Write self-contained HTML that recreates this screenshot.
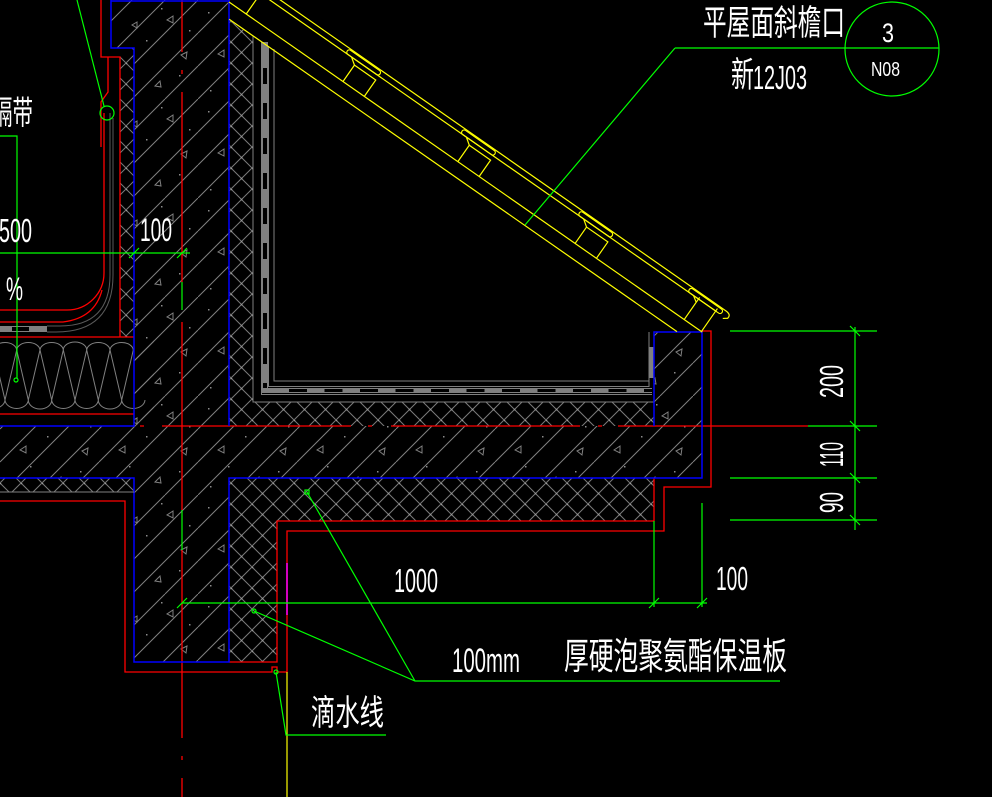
<!DOCTYPE html>
<html><head><meta charset="utf-8"><style>
html,body{margin:0;padding:0;background:#000;}
svg{display:block}
text{font-family:"Liberation Sans","Noto Sans CJK SC",sans-serif;fill:#fff;}
</style></head><body>
<svg width="992" height="797" viewBox="0 0 992 797" xmlns="http://www.w3.org/2000/svg">
<defs>
<pattern id="conc" patternUnits="userSpaceOnUse" width="99" height="99">
 <g stroke="#808080" stroke-width="1" fill="none">
  <path d="M0,33L33,0M0,66L66,0M0,99L99,0M33,99L99,33M66,99L99,66"/>
  <path d="M20,54l6,-4v7zM74,16l-6,4l6,3zM56,86l5,-5l1,6zM88,52l-6,3l5,4zM38,22l-5,3l5,3z"/>
 </g>
 <g fill="#8c8c8c">
  <rect x="10" y="12" width="1.5" height="1.5"/><rect x="47" y="40" width="1.5" height="1.5"/>
  <rect x="80" y="75" width="1.5" height="1.5"/><rect x="30" y="70" width="1.5" height="1.5"/>
  <rect x="62" y="8" width="1.5" height="1.5"/><rect x="12" y="90" width="1.5" height="1.5"/>
  <rect x="90" y="30" width="1.5" height="1.5"/>
 </g>
</pattern>
<pattern id="xh" patternUnits="userSpaceOnUse" width="21" height="21">
 <path d="M0,0L21,21M0,21L21,0" stroke="#7a7a7a" stroke-width="1" fill="none"/>
 <rect x="9.8" y="9.8" width="1.6" height="1.6" fill="#9a9a9a"/>
 <rect x="0" y="0" width="1.2" height="1.2" fill="#9a9a9a"/>
</pattern>
</defs>
<rect width="992" height="797" fill="#000"/>

<!-- concrete -->
<path d="M111,0 L229,0 L229,426 L654,426 L654,332 L702,332 L702,478 L229,478 L229,662 L134,662 L134,478 L0,478 L0,426 L134,426 L134,48 L111,48 Z" fill="url(#conc)"/>
<!-- crosshatch insulation -->
<path d="M120,48 L134,48 L134,337 L120,337 Z" fill="url(#xh)"/>
<path d="M229,20 L253,36 L253,402 L654,402 L654,426 L229,426 Z" fill="url(#xh)"/>
<path d="M0,478 L134,478 L134,492 L0,492 Z" fill="url(#xh)"/>
<path d="M229,478 L654,478 L654,521 L277,521 L277,662 L229,662 Z" fill="url(#xh)"/>

<!-- insulation loops left -->
<g stroke="#808080" fill="none" stroke-width="1">
 <path d="M-6.6,350 L5,400 L16.7,350 L28.3,400 L40,350 L51.7,400 L63.3,350 L75,400 L86.7,350 L98.3,400 L110,350 L121.7,400 L133.3,350"/>
 <path d="M-6.6,350 A11.67,8 0 0 1 16.7,350 A11.67,8 0 0 1 40,350 A11.67,8 0 0 1 63.3,350 A11.67,8 0 0 1 86.7,350 A11.67,8 0 0 1 110,350 A11.67,8 0 0 1 133.3,350"/>
 <path d="M-18.3,400 A11.67,9 0 0 0 5,400 A11.67,9 0 0 0 28.3,400 A11.67,9 0 0 0 51.7,400 A11.67,9 0 0 0 75,400 A11.67,9 0 0 0 98.3,400 A11.67,9 0 0 0 121.7,400 A11.67,9 0 0 0 145,400"/>
</g>
<rect x="134" y="340" width="20" height="80" fill="url(#conc)"/>

<!-- gray membranes upper-left -->
<g stroke="#5a5a5a" fill="none" stroke-width="1">
 <path d="M110,113 V275 Q110,326 60,326 H47"/>
 <path d="M113,118 V275 Q113,332 56,332 H47"/>
</g>
<rect x="0" y="326" width="47" height="6" fill="#808080"/>
<rect x="12" y="327" width="17" height="4" fill="#000"/>

<!-- interior box gray lines -->
<g stroke="#808080" fill="none" stroke-width="1" shape-rendering="crispEdges">
 <path d="M253,36 V402 H654"/>
 <path d="M274,49 V381 H649"/>
 <path d="M261.5,42 V394.5 H652"/>
 <path d="M268.5,46 V386.5 H649"/>
 <path d="M649,332 V387"/>
</g>
<line x1="265" y1="42" x2="265" y2="391" stroke="#808080" stroke-width="6"/>
<line x1="265" y1="68" x2="265" y2="391" stroke="#000" stroke-width="4" stroke-dasharray="16 19"/>
<line x1="262" y1="390.5" x2="652" y2="390.5" stroke="#808080" stroke-width="5"/>
<line x1="289" y1="390.5" x2="652" y2="390.5" stroke="#000" stroke-width="3" stroke-dasharray="18 17.5"/>
<rect x="649" y="347" width="5" height="31" fill="#808080"/>

<!-- red lines -->
<g stroke="#ff0000" fill="none" stroke-width="1.3">
 <path d="M101,0 V57 H120 V337"/>
 <path d="M108,57 V92 L101,102 V147"/>
 <path d="M104,113 V273 A37,37 0 0 1 67,310 H0"/>
 <path d="M0,322 H63 Q95,318 102,290"/>
 <path d="M0,337 H134 M0,414 H134"/>
 <path d="M0,501 H125 V672 H272 V667 H277 V672 H287 V531 H664 V487 H711 V331 H702"/>
 <path d="M229,662 H277 V521 H654 V478"/>
 <path d="M182,0 V52 M182,70 V74 M182,92 V282 M182,322 V510 M182,550 V738 M182,756 V760 M182,778 V797"/>
 <path d="M140,426 H144 M162,426 H351 M368,426 H372 M391,426 H580 M598,426 H602 M618,426 H808"/>
</g>

<!-- blue lines -->
<g stroke="#0000ff" fill="none" stroke-width="1.5">
 <path d="M111,1 H229 M111,0 V48 H134 V426 H0 M229,0 V426"/>
 <path d="M0,478 H134 V662 H229 V478 H702 V332 H654 V426"/>
</g>
<line x1="0" y1="492" x2="134" y2="492" stroke="#808080" stroke-width="1"/>

<!-- roof -->
<g transform="translate(229,2) rotate(34.9)" stroke="#ffff00" fill="none" stroke-width="1.2">
 <path d="M0,0 H577"/>
 <path d="M10,14 H556"/>
 <path d="M-10,-25 H576"/>
 <path d="M-10,-31 H584 q7,0 6,5 l-4,3"/>
 <path d="M-4,0 V-20 M21,0 V-20"/>
 <path d="M139,0 V-20 H165 V0"/>
 <path d="M279,0 V-20 H305 V0"/>
 <path d="M422,0 V-20 H448 V0"/>
 <path d="M555,0 V-27 M576,0 V-28"/>
 <rect x="125" y="-30" width="40" height="5" rx="2.5"/>
 <rect x="265" y="-30" width="40" height="5" rx="2.5"/>
 <rect x="408" y="-30" width="40" height="5" rx="2.5"/>
 <rect x="542" y="-30" width="40" height="5" rx="2.5"/>
 <path d="M132,-25 L139,-20 M272,-25 L279,-20 M415,-25 L422,-20 M549,-25 L555,-21"/>
</g>
<line x1="287" y1="672" x2="287" y2="797" stroke="#ffff00" stroke-width="1.2"/>
<line x1="287" y1="563" x2="287" y2="615" stroke="#ff00ff" stroke-width="1.5"/>

<!-- green lines -->
<g stroke="#00ff00" fill="none" stroke-width="1.2">
 <path d="M77,0 L104,106"/>
 <circle cx="107" cy="113" r="7"/>
 <path d="M0,136 H17 V378"/>
 <circle cx="16" cy="380" r="2"/>
 <path d="M0,253 H190 M129,258 L139,248 M177,258 L187,248"/>
 <path d="M182,282 V310 M182,510 V550"/>
 <path d="M307,492 L415,681 M254,611 L415,681 H780"/>
 <rect x="305" y="490" width="4" height="4"/>
 <circle cx="254" cy="611" r="2"/>
 <circle cx="276" cy="672" r="2"/>
 <path d="M276,672 L286,735 H386"/>
 <path d="M182,603 H707 M177,608 L187,598 M649,608 L659,598 M697,608 L707,598"/>
 <path d="M654,521 V607 M702,503 V607"/>
 <path d="M730,331 H877 M808,426 H877 M730,478 H877 M730,520 H877"/>
 <path d="M855,327 V530 M850,326 L860,336 M850,421 L860,431 M850,473 L860,483 M850,515 L860,525"/>
 <path d="M675,48 L525,225 M675,48 H939"/>
 <circle cx="892" cy="49" r="47"/>
</g>

<!-- text -->
<text x="703" y="35" font-size="35" textLength="142" lengthAdjust="spacingAndGlyphs">平屋面斜檐口</text>
<text x="731" y="87" font-size="35" textLength="23" lengthAdjust="spacingAndGlyphs">新</text>
<text x="753" y="89" font-size="33" textLength="54" lengthAdjust="spacingAndGlyphs">12J03</text>
<text x="882" y="42" font-size="27" textLength="12" lengthAdjust="spacingAndGlyphs">3</text>
<text x="871" y="76" font-size="20" textLength="29" lengthAdjust="spacingAndGlyphs">N08</text>
<text x="-8" y="124" font-size="33" textLength="41" lengthAdjust="spacingAndGlyphs">隔带</text>
<text x="-1" y="242" font-size="33" textLength="33" lengthAdjust="spacingAndGlyphs">500</text>
<text x="140" y="241" font-size="32" textLength="32" lengthAdjust="spacingAndGlyphs">100</text>
<text x="6" y="300" font-size="32" textLength="17" lengthAdjust="spacingAndGlyphs">%</text>
<text x="394" y="592" font-size="33" textLength="44" lengthAdjust="spacingAndGlyphs">1000</text>
<text x="716" y="590" font-size="33" textLength="32" lengthAdjust="spacingAndGlyphs">100</text>
<text x="452" y="672" font-size="34" textLength="68" lengthAdjust="spacingAndGlyphs">100mm</text>
<text x="564" y="669" font-size="37" textLength="223" lengthAdjust="spacingAndGlyphs">厚硬泡聚氨酯保温板</text>
<text x="311" y="725" font-size="35" textLength="73" lengthAdjust="spacingAndGlyphs">滴水线</text>
<text transform="translate(843,398) rotate(-90)" font-size="33" textLength="33" lengthAdjust="spacingAndGlyphs">200</text>
<text transform="translate(843,467) rotate(-90)" font-size="33" textLength="25" lengthAdjust="spacingAndGlyphs">110</text>
<text transform="translate(843,513) rotate(-90)" font-size="33" textLength="21" lengthAdjust="spacingAndGlyphs">90</text>
</svg>
</body></html>
